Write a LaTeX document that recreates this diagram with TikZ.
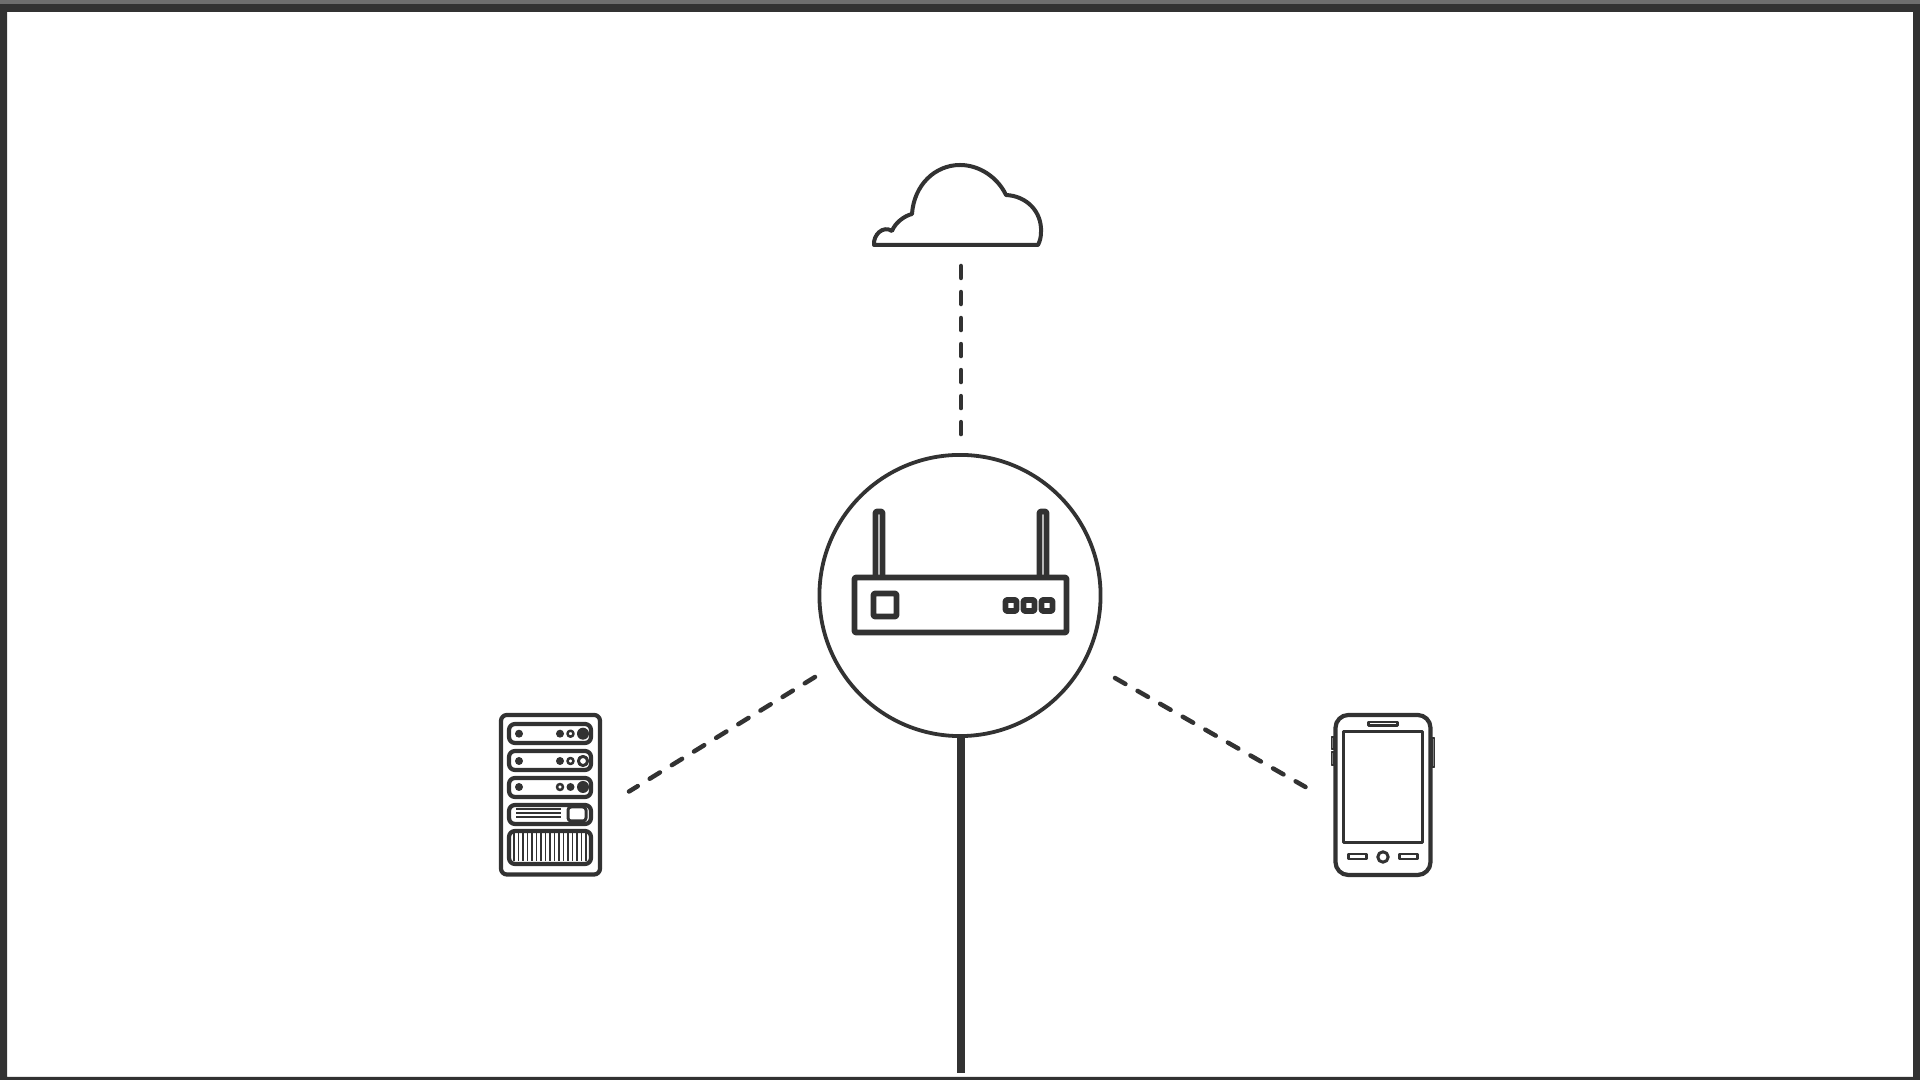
\documentclass[tikz,border=0pt]{standalone}
\usepackage{tikz}
\definecolor{line_dark}{RGB}{50,50,50}
\definecolor{frame_top}{RGB}{110,110,110}

\begin{document}
\begin{tikzpicture}[x=0.01cm,y=-0.01cm,line_dark,line join=round]
    \tikzstyle{hubnode}=[draw=line_dark, circle, line width=0.38mm, minimum size=2.81cm, inner sep=0pt]
    \tikzstyle{body}=[draw=line_dark, rectangle, line width=0.42mm, inner sep=0pt]
    \tikzstyle{slot}=[draw=line_dark, line width=0.42mm, rounded corners=0.6mm]
    \tikzstyle{thin}=[draw=line_dark, line width=0.25mm]
    \tikzstyle{router}=[draw=line_dark, line width=0.56mm, rounded corners=0.1mm]
    \tikzstyle{link}=[draw=line_dark, line width=0.45mm, line cap=round, dash pattern=on 1.2mm off 1.4mm]
    \tikzstyle{uplink}=[draw=line_dark, line width=0.8mm]
    \tikzstyle{led}=[fill=line_dark]
    \tikzstyle{ring}=[draw=line_dark, line width=0.25mm]

    \useasboundingbox (0,0) rectangle (1920,1080);
    \fill[line_dark, even odd rule] (0,0) rectangle (1920,1080) (7,12) rectangle (1913,1077);
    \fill[frame_top] (0,0) rectangle (1920,4);

    % centre
    \node[hubnode] (hub) at (960,595.5) {};
    \draw[router] (875.5,577) -- (875.5,511.5) -- (882.5,511.5) -- (882.5,577);
    \draw[router] (1039.5,577) -- (1039.5,511.5) -- (1046.5,511.5) -- (1046.5,577);
    \draw[router] (854.5,577.5) rectangle (1066.5,632.5);
    \draw[router] (873.5,593.5) rectangle (896.5,616.5);
    \foreach \x in {1011,1029,1047}
        \draw[router] (\x-5.5,600) rectangle (\x+5.5,611);

    % cloud
    \draw[line_dark, line width=0.4mm] (874,245)
        .. controls (873,235) and (883,225) .. (892,231)
        .. controls (895,223) and (904,216) .. (912,214)
        .. controls (914,185) and (935,165) .. (960,165)
        .. controls (980,165) and (998,178) .. (1006,195)
        .. controls (1027,196) and (1042,212) .. (1041,232)
        .. controls (1041,237) and (1040,241) .. (1038,245)
        -- cycle;

    % server
    \node[body, rounded corners=0.6mm, minimum width=0.99cm, minimum height=1.595cm] (server) at (550.5,794.75) {};
    \draw[slot] (509,724) rectangle (591,743);
    \draw[slot] (509,751) rectangle (591,770);
    \draw[slot] (509,778) rectangle (591,797);
    \draw[slot] (509,805) rectangle (591,824);
    \draw[slot] (509,831) rectangle (591,864);
    \foreach \y in {733.7,761,787}
        \fill[led] (519,\y) circle[radius=4];
    \fill[led] (560,733.7) circle[radius=4];
    \draw[ring] (570.5,733.7) circle[radius=3];
    \fill[led] (583,733.7) circle[radius=6];
    \fill[led] (560,761) circle[radius=4];
    \draw[ring] (570.5,761) circle[radius=3];
    \draw[ring, line width=0.3mm] (583,761) circle[radius=4.6];
    \draw[ring] (560,787) circle[radius=3];
    \fill[led] (570.5,787) circle[radius=4];
    \fill[led] (583,787) circle[radius=6];
    \foreach \y in {809,813,817}
        \draw[thin] (516,\y) -- (561,\y);
    \draw[thin, line width=0.3mm, rounded corners=0.3mm] (568,807) rectangle (586,821);
    \foreach \i in {0,...,16}
        \draw[thin, line width=0.19mm] (514+\i*4.5,833) -- (514+\i*4.5,861);

    % phone
    \node[body, rounded corners=1.3mm, minimum width=0.95cm, minimum height=1.6cm] (phone) at (1383,795) {};
    \draw[thin, line width=0.36mm] (1343.5,731.5) rectangle (1422.5,842.5);
    \draw[thin] (1368.5,722) rectangle (1397.5,725.5);
    \draw[thin] (1348.5,854) rectangle (1366.5,859);
    \draw[thin] (1399.5,854) rectangle (1417.5,859);
    \draw[ring, line width=0.3mm] (1383,857) circle[radius=5.2];
    \draw[thin, line width=0.15mm, fill=gray] (1331.5,737) rectangle (1334,749);
    \draw[thin, line width=0.15mm, fill=gray] (1331.5,752) rectangle (1334,765);
    \draw[thin, line width=0.15mm, fill=gray] (1432,738) rectangle (1434.5,767);

    % ends of the links
    \coordinate (cloud_s) at (961,266);
    \coordinate (hub_n) at (961,436);
    \coordinate (hub_sw) at (815,677);
    \coordinate (server_ne) at (629,791.5);
    \coordinate (hub_se) at (1115,678);
    \coordinate (phone_nw) at (1305.5,787);
    \coordinate (drop) at (961,1073);

    \path
     (cloud_s) edge[link] (hub_n)
     (hub_sw) edge[link] (server_ne)
     (hub_se) edge[link] (phone_nw)
     (hub.south -| drop) edge[uplink] (drop)
     ;
\end{tikzpicture}
\end{document}
